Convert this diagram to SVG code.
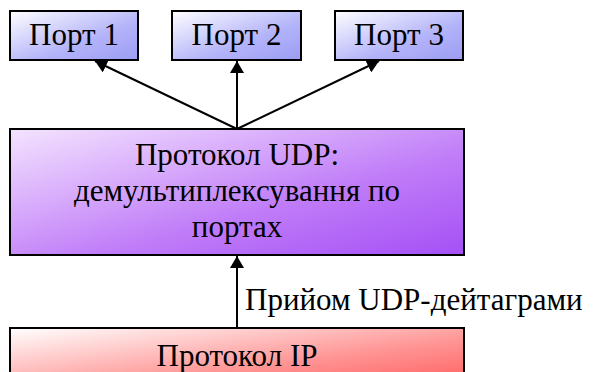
<svg xmlns="http://www.w3.org/2000/svg" width="595" height="372" viewBox="0 0 595 372">
<style>
.box{stroke:#000;stroke-width:2}
.t{font-family:"Liberation Serif","Times New Roman",serif;font-size:31px;fill:#000;text-anchor:middle}
.lbl{font-family:"Liberation Serif","Times New Roman",serif;font-size:31px;fill:#000}
.c{stroke:#000;stroke-width:2;fill:none;marker-end:url(#ah)}
</style>
<defs>
<linearGradient id="gPort" x1="0" y1="0" x2="1" y2="1">
<stop offset="0" stop-color="#ffffff"/>
<stop offset="0.6" stop-color="#b4b4fa"/>
<stop offset="1" stop-color="#9c9cf4"/>
</linearGradient>
<linearGradient id="gUdp" x1="0" y1="0" x2="1" y2="1">
<stop offset="0" stop-color="#f4e4ff"/>
<stop offset="0.6" stop-color="#c07cf8"/>
<stop offset="1" stop-color="#a550f5"/>
</linearGradient>
<linearGradient id="gIp" x1="0" y1="0" x2="1" y2="1">
<stop offset="0" stop-color="#ffffff"/>
<stop offset="0.6" stop-color="#ff9494"/>
<stop offset="1" stop-color="#ff5c5c"/>
</linearGradient>
<marker id="ah" markerWidth="12" markerHeight="14" viewBox="0 0 12 14" refX="12" refY="7" orient="auto" markerUnits="userSpaceOnUse">
<path d="M0,0 L12,7 L0,14 Z" fill="#000"/>
</marker>
</defs>
<g id="connectors">
<line class="c" x1="237" y1="129" x2="95" y2="61"/>
<line class="c" x1="237" y1="129" x2="237" y2="61"/>
<line class="c" x1="237" y1="129" x2="379" y2="61"/>
<line class="c" x1="237" y1="328" x2="237" y2="256"/>
<text class="lbl" x="245" y="310">Прийом UDP-дейтаграми</text>
</g>
<g id="port1">
<rect class="box" x="10" y="11" width="128" height="49" fill="url(#gPort)"/>
<text class="t" x="74" y="45">Порт 1</text>
</g>
<g id="port2">
<rect class="box" x="172" y="11" width="129" height="49" fill="url(#gPort)"/>
<text class="t" x="236.5" y="45">Порт 2</text>
</g>
<g id="port3">
<rect class="box" x="335" y="11" width="128" height="49" fill="url(#gPort)"/>
<text class="t" x="399" y="45">Порт 3</text>
</g>
<g id="udp">
<rect class="box" x="10" y="129" width="454" height="126" fill="url(#gUdp)"/>
<text class="t" x="237" y="165">Протокол UDP:</text>
<text class="t" x="237" y="201">демультиплексування по</text>
<text class="t" x="237" y="237">портах</text>
</g>
<g id="ip">
<rect class="box" x="10" y="328" width="454" height="60" fill="url(#gIp)"/>
<text class="t" x="237" y="366">Протокол IP</text>
</g>
</svg>
